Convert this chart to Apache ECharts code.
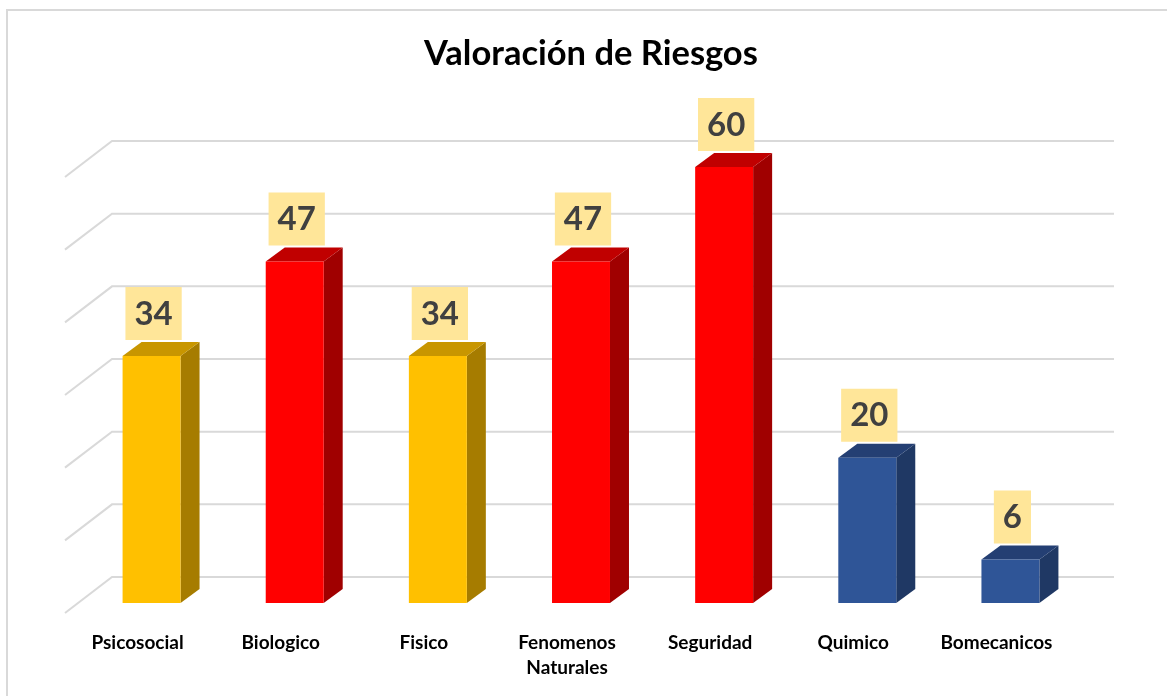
<!DOCTYPE html>
<html>
<head>
<meta charset="utf-8">
<script src="https://cdn.jsdelivr.net/npm/echarts@6/dist/echarts.min.js"></script>
<style>
html,body{margin:0;padding:0;background:#fff;}
#chart{width:1167px;height:696px;}
</style>
</head>
<body>
<div id="chart"></div>
<script>
// ---- data ----
const categories = ['Psicosocial', 'Biologico', 'Fisico', 'Fenomenos\nNaturales', 'Seguridad', 'Quimico', 'Bomecanicos'];
const values = [34, 47, 34, 47, 60, 20, 6];
const levels = ['Medio', 'Alto', 'Medio', 'Alto', 'Alto', 'Bajo', 'Bajo'];
const yTicks = [0, 10, 20, 30, 40, 50, 60];
const titleText = 'Valoración de Riesgos';

// ---- styles ----
const palette = {
  Medio: { front: '#FFC000', top: '#C89600', side: '#A67C00' },
  Alto:  { front: '#FF0000', top: '#C00000', side: '#A00000' },
  Bajo:  { front: '#2F5597', top: '#243F73', side: '#1F3864' }
};
const DEPTH_X = 19, DEPTH_Y = -14;
const BACK_X = 32, BACK_Y = -26;
const FRONT_X = -15, FRONT_Y = 10;

const chart = echarts.init(document.getElementById('chart'));

const barData = values.map((v, i) => [i, v, i]);
const gridData = yTicks.map(t => [0, t]);

chart.setOption({
  backgroundColor: '#ffffff',
  animation: false,
  title: {
    text: titleText,
    left: 424,
    top: 36,
    padding: 0,
    textStyle: { fontFamily: 'Lato', fontWeight: 'bold', fontSize: 34.5, color: '#000000' }
  },
  graphic: [{
    type: 'rect',
    shape: { x: 7, y: 10, width: 1200, height: 720 },
    style: { fill: 'none', stroke: '#D9D9D9', lineWidth: 2 },
    silent: true
  }],
  grid: { left: 80, right: 85, top: 167, bottom: 93 },
  xAxis: {
    type: 'category',
    data: categories,
    axisLine: { show: false },
    axisTick: { show: false },
    splitLine: { show: false },
    axisLabel: {
      interval: 0,
      margin: 27,
      fontFamily: 'Lato',
      fontWeight: 'bold',
      fontSize: 19,
      lineHeight: 25,
      color: '#000000',
      padding: [0, 28, 0, 0]
    }
  },
  yAxis: {
    type: 'value',
    min: 0,
    max: 60,
    interval: 10,
    show: false
  },
  series: [
    {
      type: 'custom',
      name: 'grid',
      z: 1,
      silent: true,
      data: gridData,
      renderItem: function (params, api) {
        const cs = params.coordSys;
        const y = api.coord([0, api.value(1)])[1];
        const left = cs.x, right = cs.x + cs.width;
        return {
          type: 'polyline',
          shape: { points: [[left + FRONT_X, y + FRONT_Y], [left + BACK_X, y + BACK_Y], [right + BACK_X, y + BACK_Y]] },
          style: { stroke: '#D9D9D9', lineWidth: 2, fill: 'none' }
        };
      }
    },
    {
      type: 'custom',
      name: 'Valoración',
      z: 3,
      data: barData,
      renderItem: function (params, api) {
        const idx = api.value(0);
        const v = api.value(1);
        const col = palette[levels[api.value(2)]];
        const topPt = api.coord([idx, v]);
        const basePt = api.coord([idx, 0]);
        const bw = api.size([1, 0])[0] * 0.405;
        const L = topPt[0] - bw / 2, R = topPt[0] + bw / 2;
        const T = topPt[1], B = basePt[1];
        return {
          type: 'group',
          children: [
            { type: 'polygon', shape: { points: [[R, T], [R + DEPTH_X, T + DEPTH_Y], [R + DEPTH_X, B + DEPTH_Y], [R, B]] }, style: { fill: col.side } },
            { type: 'polygon', shape: { points: [[L, T], [R, T], [R + DEPTH_X, T + DEPTH_Y], [L + DEPTH_X, T + DEPTH_Y]] }, style: { fill: col.top } },
            { type: 'rect', shape: { x: L, y: T, width: bw, height: B - T }, style: { fill: col.front } },
            {
              type: 'text',
              z2: 10,
              style: {
                x: topPt[0] + 2,
                y: T + DEPTH_Y - 2,
                text: String(v),
                align: 'center',
                verticalAlign: 'bottom',
                fontFamily: 'Lato',
                fontWeight: 'bold',
                fontSize: 33,
                lineHeight: 32,
                fill: '#404040',
                backgroundColor: '#FFE699',
                padding: [11, 9, 10, 9]
              }
            }
          ]
        };
      }
    }
  ]
});
</script>
</body>
</html>
